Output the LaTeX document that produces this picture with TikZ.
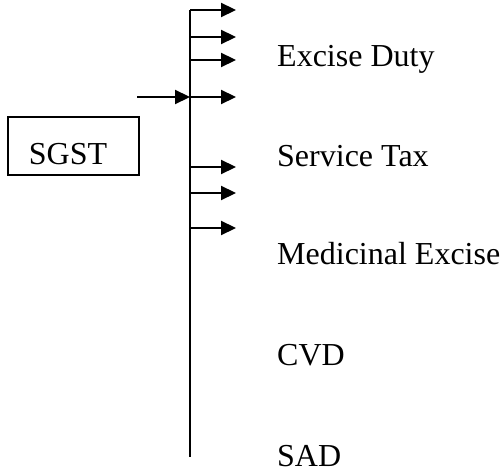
\documentclass[tikz,border=0pt]{standalone}
\usepackage{fontspec}
\setmainfont{Liberation Serif}
\usetikzlibrary{arrows.meta,positioning}
\tikzset{
  >=Triangle,
  tr/.style={-{Triangle[length=15pt,width=14pt]}, line width=2.2pt},
  bus/.style={line width=2.2pt},
  lbl/.style={font=\fontsize{32}{38}\selectfont, anchor=base west, inner sep=0pt},
  taxbox/.style={rectangle, draw, line width=2pt, minimum width=131pt, minimum height=58pt, inner sep=0pt,
    font=\fontsize{32}{38}\selectfont}
}
\begin{document}
\begin{tikzpicture}[x=1pt,y=-1pt]
    \useasboundingbox (0,0) rectangle (503,473);

    % Box on the left
    \node[taxbox] (sgst) at (73.5,146) {};
    \node[font=\fontsize{32}{38}\selectfont, anchor=base, inner sep=0pt] (sgsttxt) at (68,165) {SGST};

    % Vertical bus
    \coordinate (top) at (190,10);
    \coordinate (bot) at (190,457);
    \draw[bus] (top) -- (bot);

    % Incoming arrow
    \coordinate (in) at (137,97);
    \coordinate (hit) at (190,97);
    \draw[tr] (in) -- (hit);

    % Outgoing arrows
    \foreach \y [count=\i] in {10, 37, 60, 97, 167, 193, 228} {
        \coordinate (a\i) at (190,\y);
        \coordinate (b\i) at (236,\y);
        \draw[tr] (a\i) -- (b\i);
    }

    % Labels
    \node[lbl] (excise) at (277,67) {Excise Duty};
    \node[lbl] (service) at (277,167) {Service Tax};
    \node[lbl] (medicinal) at (277,264) {Medicinal Excise};
    \node[lbl] (cvd) at (277,365) {CVD};
    \node[lbl] (sad) at (277,466) {SAD};

\end{tikzpicture}
\end{document}
